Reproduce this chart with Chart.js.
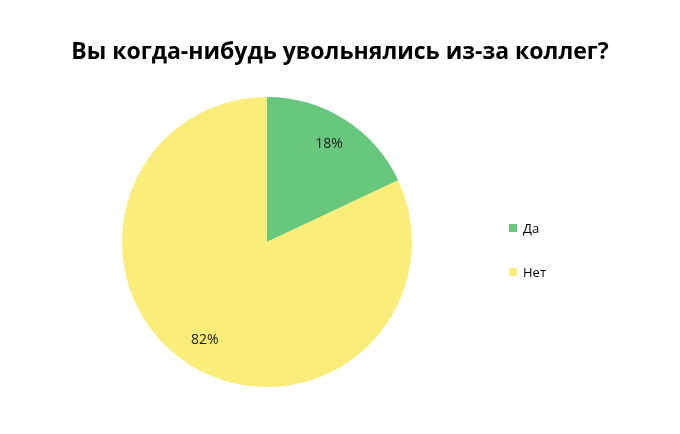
<!DOCTYPE html>
<html>
<head>
<meta charset="utf-8">
<script src="https://cdn.jsdelivr.net/npm/chart.js@4"></script>
<style>
  body { margin: 0; background: #fff; font-family: "Open Sans", "Noto Sans", sans-serif; }
  #wrap { position: relative; width: 680px; height: 434px; }
  #title { position: absolute; top: 34px; left: 0; width: 680px; text-align: center; font-size: 23px; font-weight: bold; color: #000; }
  #legend { position: absolute; left: 509px; top: 219px; font-size: 13px; color: #000; }
  .item { height: 44px; display: flex; align-items: flex-start; }
  .sw { width: 8px; height: 8px; margin: 5px 6px 0 0; }
</style>
</head>
<body>
<div id="wrap">
  <canvas id="pieChart" width="680" height="434"></canvas>
  <div id="title">Вы когда-нибудь увольнялись из-за коллег?</div>
  <div id="legend"></div>
</div>
<script>
const labels = ['Да', 'Нет'];
const values = [18, 82];
const colors = ['#66C77D', '#FAED7A'];

// percentage labels inside slices
const sliceLabels = {
    id: 'sliceLabels',
    afterDatasetsDraw(chart) {
        const ctx = chart.ctx;
        const meta = chart.getDatasetMeta(0);
        ctx.save();
        ctx.font = '14px "Open Sans", sans-serif';
        ctx.fillStyle = '#222';
        ctx.textAlign = 'center';
        ctx.textBaseline = 'middle';
        meta.data.forEach((arc, i) => {
            const p = arc.getProps(['x', 'y', 'startAngle', 'endAngle', 'outerRadius']);
            const a = (p.startAngle + p.endAngle) / 2;
            const r = p.outerRadius * 0.8;
            ctx.fillText(values[i] + '%', p.x + Math.cos(a) * r, p.y + Math.sin(a) * r);
        });
        ctx.restore();
    }
};

new Chart(document.getElementById('pieChart'), {
    type: 'pie',
    data: { labels: labels, datasets: [{ data: values, backgroundColor: colors, borderWidth: 0 }] },
    options: {
        responsive: false, animation: false,
        layout: { padding: { top: 97, bottom: 47, left: 122, right: 268 } },
        plugins: { legend: { display: false }, tooltip: { enabled: false } }
    },
    plugins: [sliceLabels]
});

const legend = document.getElementById('legend');
labels.forEach((l, i) => {
    legend.innerHTML += `<div class="item"><div class="sw" style="background:${colors[i]}"></div><span>${l}</span></div>`;
});
</script>
</body>
</html>
